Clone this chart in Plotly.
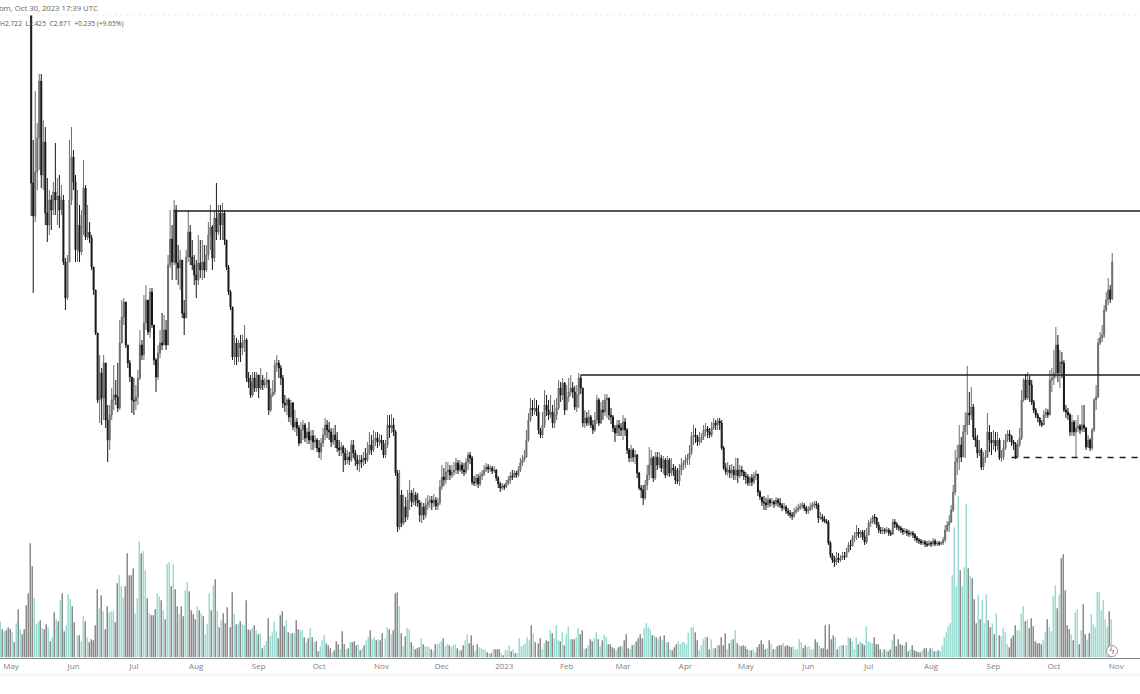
import pandas as pd
import plotly.graph_objects as go

# Each bar is (close, high, low, volume). The source shows no price axis, so prices
# are read as a rebased index of the hidden scale; volume is a rebased index too.
apr_2022 = [(720,740,700,36),(710,730,690,28),(715,735,695,26),(705,725,685,27),(700,720,680,30)]
may_2022 = [(695,715,680,28),(700,720,685,25),(690,710,675,15),(695,715,680,34),(685,705,670,48),
(690,710,675,28),(680,700,665,23),(670,690,650,28),(650,675,630,52),(640,660,620,64),
(417,620,384,114),(384,460,307,91),(428,509,378,59),(462,477,410,33),(519,526,430,35),(425,526,412,37),
(458,480,410,29),(387,473,375,28),(375,422,358,33),(400,410,365,30),(390,405,370,16),(408,418,385,20),
(400,457,385,45),(404,422,375,38),(390,425,372,36),(400,415,385,57),(338,405,335,64),(302,342,290,26),
(338,345,300,32),(400,460,338,63),(443,473,395,58)]
jun_2022 = [(418,450,410,51),(350,425,338,35),(375,410,338,22),(348,395,338,22),(385,390,345,16),
(412,440,365,41),(363,415,360,36),(368,395,360,20),(362,378,357,15),(333,365,330,18),(310,333,305,17),
(267,310,265,32),(200,265,197,68),(227,245,177,49),(202,232,175,62),(237,245,180,46),(180,237,172,28),
(160,195,138,51),(185,195,150,45),(200,212,180,46),(205,235,190,46),(203,220,195,35),(192,237,188,74),
(257,280,190,82),(283,300,257,71),(298,302,275,60),(255,298,252,71),(237,255,232,104),(223,240,218,82),
(200,222,187,82)]
jul_2022 = [(199,222,185,89),(203,215,190,44),(222,230,195,59),(255,270,220,116),(245,260,240,104),
(277,305,240,106),(300,315,270,87),(268,295,265,59),(308,312,262,44),(275,312,272,42),(240,275,235,42),
(223,242,208,48),(247,255,220,64),(257,270,242,61),(255,287,250,57),(270,285,255,47),(255,280,250,38),
(335,345,255,93),(361,390,332,95),(338,375,320,71),(390,400,335,93),(337,395,320,68),(332,355,315,51),
(340,350,310,43),(287,340,282,51),(282,300,265,41),(343,350,282,67),(368,390,338,75),(343,375,335,66),
(335,360,330,47),(325,345,315,43)]
aug_2022 = [(320,340,302,38),(337,365,315,51),(330,360,322,47),(338,360,320,44),(330,355,322,41),
(345,355,328,23),(365,378,340,33),(373,395,350,64),(342,375,330,47),(382,390,338,72),(368,417,360,78),
(387,395,365,46),(375,395,360,30),(387,397,360,37),(360,390,355,44),(333,360,330,34),(308,335,305,50),
(293,310,290,30),(243,293,240,65),(257,265,235,43),(243,262,235,33),(257,260,238,33),(252,265,238,36),
(258,265,245,33),(260,275,248,32),(222,262,218,57),(218,228,212,28),(205,225,202,27),(222,228,203,29),
(212,228,208,32),(225,228,208,27)]
sep_2022 = [(212,225,202,23),(220,232,210,24),(215,225,210,9),(217,222,212,12),(220,228,212,16),
(190,220,185,39),(205,212,188,21),(208,220,203,25),(235,240,205,36),(237,245,228,26),(232,240,222,19),
(222,235,215,42),(197,225,192,46),(195,205,188,31),(200,202,185,37),(183,202,178,25),(197,200,175,24),
(173,198,170,24),(178,190,168,24),(172,182,164,37),(157,175,154,28),(170,178,156,27),(175,180,160,27),
(162,177,158,20),(168,172,156,15),(160,178,156,19),(164,170,150,29),(158,170,150,20),(160,165,152,15),
(152,162,148,16)]
oct_2022 = [(148,160,142,6),(157,162,140,11),(165,172,153,17),(175,182,160,22),(170,180,162,14),
(168,178,160,12),(158,172,153,9),(165,172,155,5),(160,175,152,7),(152,168,148,16),(150,160,144,13),
(153,158,144,8),(147,155,128,26),(140,152,135,13),(143,150,136,8),(140,148,135,9),(155,160,138,15),
(147,160,142,15),(140,150,134,16),(136,145,130,12),(140,145,128,13),(138,145,132,7),(142,148,134,9),
(140,152,136,12),(147,158,138,17),(155,168,145,20),(150,165,145,27),(160,170,148,18),(162,168,154,20),
(158,168,152,17),(160,166,154,18)]
nov_2022 = [(157,165,150,17),(145,160,142,24),(155,160,142,19),(175,185,152,30),(172,185,162,28),
(175,186,167,23),(168,182,164,27),(127,170,124,64),(73,130,68,65),(105,130,70,51),(77,110,73,24),
(93,105,75,11),(83,103,78,21),(100,110,80,29),(107,120,90,28),(98,110,93,15),(105,112,95,11),
(100,108,94,8),(97,107,93,9),(85,100,78,10),(93,98,77,19),(85,97,80,13),(95,102,82,11),(98,105,90,11),
(100,104,92,10),(97,104,90,8),(100,106,93,6),(94,103,90,13),(97,102,90,13),(113,120,95,14)]
dec_2022 = [(123,135,110,16),(120,132,114,19),(128,138,116,11),(130,138,120,13),(125,135,120,12),
(128,135,122,10),(130,138,124,12),(137,142,126,13),(130,140,126,9),(135,140,128,7),(130,138,126,7),
(128,137,124,12),(138,142,126,17),(145,148,130,23),(142,148,136,14),(118,144,115,22),(117,124,114,12),
(122,126,114,6),(116,126,112,13),(124,128,114,10),(126,130,120,9),(130,135,124,8),(133,137,128,7),
(131,136,127,5),(132,135,128,4),(129,134,126,4),(130,134,127,8),(122,131,119,8),(116,124,112,8),
(112,118,108,8),(114,117,110,4)]
jan_2023 = [(113,116,110,2),(117,120,112,7),(120,124,115,7),(124,128,116,12),(123,130,120,6),
(127,130,122,8),(125,129,122,4),(130,134,123,4),(137,142,128,19),(140,145,134,11),(143,150,138,12),
(160,170,142,14),(180,187,158,20),(192,202,178,17),(190,200,184,32),(192,202,185,24),(188,200,184,15),
(170,195,166,14),(165,172,162,19),(175,188,162,8),(195,210,172,14),(190,205,184,17),(185,200,180,16),
(188,205,182,27),(177,195,172,24),(185,200,172,19),(192,202,180,32),(212,220,190,17),(205,218,198,16),
(217,222,200,25),(190,218,185,12)]
feb_2023 = [(203,215,190,23),(208,222,198,31),(212,225,204,18),(208,218,202,18),(193,214,190,18),
(205,215,188,20),(222,227,192,29),(212,225,206,23),(177,212,173,27),(182,190,172,8),(177,188,174,9),
(183,190,174,12),(175,185,172,18),(170,180,166,16),(180,188,168,19),(200,205,176,25),(177,202,174,18),
(190,198,176,11),(188,200,180,17),(200,206,184,22),(202,206,182,20),(185,202,180,13),(183,192,176,13),
(172,185,168,10),(167,175,158,9),(175,180,164,7),(172,180,164,10),(170,177,164,11)]
mar_2023 = [(178,185,160,11),(170,182,164,17),(150,172,146,23),(142,152,138,9),(150,155,138,8),
(143,152,138,12),(145,150,136,13),(127,146,122,16),(112,128,110,19),(110,115,102,23),(102,115,95,19),
(115,120,100,29),(125,135,110,34),(135,153,120,30),(142,150,122,28),(122,144,118,22),(143,148,120,22),
(135,148,130,20),(142,148,132,18),(132,145,128,21),(140,144,126,17),(125,142,122,22),(140,144,124,15),
(127,142,123,15),(132,142,124,8),(130,136,124,7),(120,134,116,10),(119,132,116,13),(130,136,114,16),
(135,142,125,13),(137,140,130,15)]
apr_2023 = [(140,145,132,15),(142,146,135,13),(147,155,135,24),(164,168,145,30),(165,175,155,30),
(163,172,157,25),(158,165,154,17),(160,168,155,7),(163,167,157,12),(170,175,160,18),(171,177,164,20),
(168,174,162,20),(165,172,162,8),(172,178,163,18),(177,182,170,9),(175,180,170,9),(179,182,170,12),
(177,182,170,12),(152,180,150,20),(132,154,130,12),(128,137,125,24),(130,138,124,8),(127,135,122,14),
(130,136,122,17),(125,134,120,18),(130,142,120,27),(124,142,117,14),(130,135,122,12),(128,134,124,11),
(124,130,120,12)]
may_2023 = [(123,128,116,11),(117,126,114,8),(122,124,114,7),(118,126,114,7),(124,128,116,8),(126,130,120,5),
(108,126,104,10),(103,110,100,13),(98,103,94,17),(97,104,90,13),(95,102,90,8),(100,105,92,9),(97,102,93,17),
(98,102,94,13),(96,100,92,8),(100,103,94,8),(97,102,93,11),(95,102,92,12),(92,97,89,12),(93,97,90,14),
(89,95,86,11),(87,92,84,12),(85,90,82,11),(84,88,80,10),(88,92,82,11),(90,94,86,8),(92,96,88,8),(94,97,90,18),
(95,98,91,15),(92,97,89,9),(89,94,86,12)]
jun_2023 = [(90,94,86,10),(93,97,89,11),(95,98,90,8),(96,99,92,8),(95,99,91,18),(82,97,77,15),(83,88,80,12),
(81,86,78,9),(79,84,77,9),(78,81,76,32),(57,80,55,8),(45,59,42,33),(40,47,37,18),(38,44,33,22),(42,48,35,20),
(40,47,37,8),(42,45,38,11),(44,48,40,12),(43,48,40,12),(48,52,42,12),(55,58,48,20),(54,60,50,19),(62,65,54,16),
(64,68,58,8),(68,75,60,20),(66,72,62,13),(68,70,62,16),(63,70,60,14),(58,70,55,12),(65,72,56,31)]
jul_2023 = [(77,80,65,16),(78,82,73,15),(83,85,76,14),(82,86,76,20),(75,83,72,13),(70,78,67,13),(69,73,66,8),
(70,73,66,5),(69,72,66,8),(70,73,67,7),(67,72,64,6),(66,70,64,8),(78,81,65,17),(76,81,72,23),(73,78,70,11),
(72,75,69,18),(70,74,67,13),(68,72,65,12),(69,72,66,12),(67,71,64,15),(66,70,63,6),(67,69,64,8),(65,69,62,12),
(62,67,59,7),(60,64,57,6),(59,62,56,5),(57,61,55,5),(58,60,55,7),(56,60,53,9),(55,59,53,9),(57,60,54,6)]
aug_2023 = [(56,59,53,9),(59,62,54,9),(56,61,54,6),(57,59,54,6),(56,59,54,7),(57,59,55,6),(60,63,55,12),
(70,75,58,20),(75,79,68,25),(78,85,68,31),(90,95,77,34),(108,115,88,82),(138,150,105,130),(142,155,125,71),
(155,175,130,161),(143,163,138,87),(168,175,143,71),(175,188,142,90),(187,234,165,153),(185,208,175,89),
(193,213,180,81),(163,196,160,79),(160,172,153,58),(147,165,142,34),(150,160,144,62),(133,152,130,38),
(142,148,130,57),(143,150,137,34),(168,187,142,63),(160,175,148,37),(157,168,145,30)]
sep_2023 = [(160,170,150,34),(154,168,148,23),(160,168,150,44),(142,162,140,22),(143,150,138,21),(152,160,140,29),
(160,166,150,25),(166,170,158,13),(164,170,158,10),(158,165,154,19),(156,160,150,22),(143,158,141,32),
(155,160,143,27),(162,172,153,27),(200,210,160,44),(220,222,198,51),(202,226,200,36),(220,228,200,38),
(215,224,198,29),(198,220,195,39),(190,200,187,31),(185,192,182,16),(182,187,178,14),(177,183,174,14),
(175,180,173,13),(185,190,175,17),(188,192,182,25),(185,191,182,38),(220,230,185,30),(222,232,208,26)]
oct_2023 = [(227,250,215,61),(255,273,222,72),(227,265,218,49),(238,250,212,62),(237,248,222,99),(190,240,188,103),
(188,195,182,67),(185,192,180,32),(168,187,164,28),(178,185,164,23),(168,180,164,17),(172,180,143,45),
(174,185,168,48),(170,176,166,13),(175,195,168,27),(172,195,168,53),(153,173,150,23),(160,165,152,17),
(152,162,149,24),(170,172,150,43),(200,202,168,33),(203,215,190,30),(257,262,202,65),(262,268,255,65),
(265,275,258,47),(290,295,262,57),(300,308,288,38),(310,322,295,30),(301,315,297,46),(338,347,300,38)]

month_starts = ["2022-04-26","2022-05-01","2022-06-01","2022-07-01","2022-08-01","2022-09-01","2022-10-01",
                "2022-11-01","2022-12-01","2023-01-01","2023-02-01","2023-03-01","2023-04-01","2023-05-01",
                "2023-06-01","2023-07-01","2023-08-01","2023-09-01","2023-10-01"]
months = [apr_2022,may_2022,jun_2022,jul_2022,aug_2022,sep_2022,oct_2022,nov_2022,dec_2022,jan_2023,
          feb_2023,mar_2023,apr_2023,may_2023,jun_2023,jul_2023,aug_2023,sep_2023,oct_2023]

tick_dates = ["2022-05-01","2022-06-01","2022-07-01","2022-08-01","2022-09-01","2022-10-01","2022-11-01",
              "2022-12-01","2023-01-01","2023-02-01","2023-03-01","2023-04-01","2023-05-01","2023-06-01",
              "2023-07-01","2023-08-01","2023-09-01","2023-10-01","2023-11-01"]
tick_labels = ["May","Jun","Jul","Aug","Sep","Oct","Nov","Dec","2023","Feb","Mar","Apr","May","Jun","Jul","Aug","Sep","Oct","Nov"]

# horizontal levels: (start date, index level, dash)
levels = [("2022-07-21",389,"solid"),("2023-02-08",225,"solid"),("2023-09-10",142.5,"6px,6px")]

dates, closes, highs, lows, vols = [], [], [], [], []
for start, rows in zip(month_starts, months):
    for d, row in zip(pd.date_range(start, periods=len(rows)), rows):
        dates.append(d)
        closes.append(row[0]); highs.append(row[1]); lows.append(row[2]); vols.append(row[3])
opens = [closes[0]] + closes[:-1]

UP, DOWN = "#6c6c6c", "#161616"
V_UP, V_DOWN = "#9adbd1", "#8a8a8a"
vol_colors = [V_UP if c >= o else V_DOWN for c, o in zip(closes, opens)]

fig = go.Figure()
# hairline bars drawn by their outline, so every bar has the same thin width
fig.add_trace(go.Bar(x=dates, y=vols, yaxis="y2",
                     marker=dict(color=vol_colors, line=dict(width=1.5, color=vol_colors)),
                     width=1000, showlegend=False))
fig.add_trace(go.Candlestick(x=dates, open=opens, high=highs, low=lows, close=closes,
                             increasing=dict(line=dict(color=UP, width=1), fillcolor=UP),
                             decreasing=dict(line=dict(color=DOWN, width=1), fillcolor=DOWN),
                             whiskerwidth=0, showlegend=False))

X_END = "2023-11-12 19:00"
for start, level, dash in levels:
    fig.add_shape(type="line", xref="x", yref="y", x0=start, x1=X_END, y0=level, y1=level,
                  line=dict(color="#1c1c1c", width=1.4, dash=dash))

H = 694.0
fig.add_shape(type="line", xref="paper", yref="paper", x0=0, x1=1, y0=1-15/H, y1=1-15/H,
              line=dict(color="#eeeeee", width=1, dash="dot"))
fig.add_shape(type="rect", xref="paper", yref="paper", x0=0, x1=1, y0=1-676/H, y1=1-673/H,
              fillcolor="#f6f6f6", line=dict(width=0))
fig.add_shape(type="circle", xref="paper", yref="paper", x0=(1112-5.5)/1140, x1=(1112+5.5)/1140,
              y0=1-(651+5.5)/H, y1=1-(651-5.5)/H, fillcolor="white", line=dict(color="#9a9a9a", width=1))

fig.add_annotation(xref="paper", yref="paper", x=0, y=1-8/H, xanchor="left", yanchor="middle", showarrow=False,
                   xshift=-2, borderpad=0,
                   text="om, Oct 30, 2023 17:39 UTC", font=dict(family="Open Sans", size=7.7, color="#666666"))
fig.add_annotation(xref="paper", yref="paper", x=1/1140, y=1-23/H, xanchor="left", yanchor="middle", showarrow=False,
                   xshift=-2, borderpad=0,
                   text="H2.722  L2.425  C2.671  +0.235 (+9.65%)", font=dict(family="Open Sans", size=6.7, color="#555555"))
fig.add_annotation(xref="paper", yref="paper", x=1112/1140, y=1-651/H, xanchor="center", yanchor="middle", showarrow=False,
                   text="ϟ", font=dict(family="DejaVu Sans", size=9, color="#777777"))

fig.update_layout(
    width=1140, height=694, margin=dict(l=0, r=0, t=0, b=0), paper_bgcolor="white", plot_bgcolor="white",
    bargap=0, showlegend=False,
    xaxis=dict(type="date", range=["2022-04-25 12:00", X_END], rangeslider=dict(visible=False),
               showgrid=False, zeroline=False, showline=True, linecolor="#8a8a8a", linewidth=1, ticks="",
               tickmode="array", tickvals=tick_dates, ticktext=tick_labels,
               tickfont=dict(family="Open Sans", size=8, color="#808080")),
    yaxis=dict(domain=[1-658/H, 1-15/H], range=[-58, 585], visible=False, showgrid=False),
    yaxis2=dict(domain=[1-658/H, 1-15/H], range=[0, 643], overlaying="y", visible=False, showgrid=False),
)
fig.data[1].update(yaxis="y")
fig.write_html("out.html", config=dict(displayModeBar=False),
               post_script="document.body.style.margin='0';document.body.style.overflow='hidden';")
